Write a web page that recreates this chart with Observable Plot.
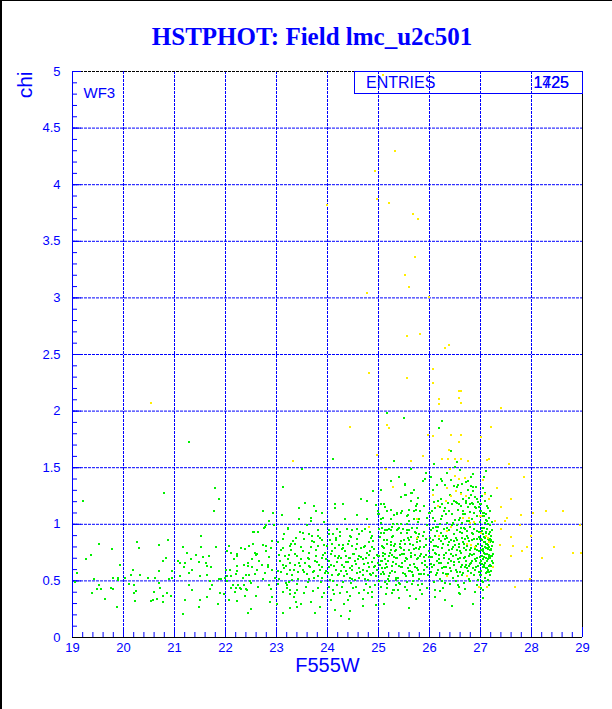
<!DOCTYPE html>
<html><head><meta charset="utf-8">
<script src="https://cdn.jsdelivr.net/npm/d3@7"></script>
<script src="https://cdn.jsdelivr.net/npm/@observablehq/plot@0.6"></script>
<style>
html,body{margin:0;padding:0;background:#fff;}
#wrap{position:relative;width:612px;height:709px;overflow:hidden;background:#fff;}
#title{position:absolute;left:6px;top:23px;width:612px;text-align:center;font:bold 25px "Liberation Serif",serif;color:#0000ff;white-space:nowrap;}
.lbl{position:absolute;font-family:"Liberation Sans",sans-serif;color:#0000ff;white-space:nowrap;}
#box{position:absolute;left:354px;top:71px;width:229px;height:23px;box-sizing:border-box;border:1px solid #0000ff;}
#chi{position:absolute;left:9px;top:76px;width:30px;height:21px;line-height:21px;font-size:21px;text-align:right;transform:rotate(-90deg);transform-origin:50% 50%;}
#bl{position:absolute;left:0;top:0;width:2px;height:709px;background:#000;}
#bt{position:absolute;left:0;top:0;width:612px;height:1px;background:#000;}
#chart{position:absolute;left:0;top:0;}
</style></head>
<body>
<div id="wrap">
  <div id="chart"></div>
  <div id="title">HSTPHOT: Field lmc_u2c501</div>
  <div id="box"></div>
  <div class="lbl" style="left:366px;top:75px;font-size:16px;line-height:16px;">ENTRIES</div>
  <div class="lbl" style="left:480px;width:89px;text-align:right;top:75px;font-size:16px;line-height:16px;">1725</div>
  <div class="lbl" style="left:480px;width:89px;text-align:right;top:75px;font-size:16px;line-height:16px;">1425</div>
  <div class="lbl" id="chi"></div>
  <div id="bl"></div><div id="bt"></div>
</div>
<script>
// ---- data (F555W magnitude, chi) ----
const xTickLabels = [19,20,21,22,23,24,25,26,27,28,29];
const yTickLabels = [0,0.5,1,1.5,2,2.5,3,3.5,4,4.5,5];
const xGrid = [20,21,22,23,24,25,26,27,28];
const yGrid = [0.5,1,1.5,2,2.5,3,3.5,4,4.5];
const xTitle = "F555W";
const yTitle = "chi";
const panelLabel = "WF3";

const greenBright = "21.29,1.73 20.80,1.28 19.20,1.21 21.80,1.32 21.88,1.22 21.77,1.12 21.52,0.90 19.51,0.83 20.27,0.84 19.78,0.78 20.31,0.79 20.88,0.86 20.69,0.82 19.37,0.73 19.27,0.69 19.94,0.64 19.08,0.57 19.43,0.52 19.80,0.53 19.89,0.53 19.90,0.51 20.02,0.53 20.18,0.60 20.15,0.55 20.32,0.55 20.49,0.53 20.61,0.53 20.69,0.59 20.90,0.52 20.95,0.53 20.78,0.68 20.84,0.70 20.95,0.59 20.70,0.48 21.07,0.68 21.10,0.66 21.17,0.80 21.24,0.75 21.20,0.66 21.18,0.62 21.33,0.69 21.35,0.60 21.29,0.57 21.10,0.54 21.43,0.73 21.51,0.80 21.56,0.71 21.48,0.67 21.61,0.66 21.64,0.63 21.68,0.72 21.82,0.80 21.72,0.62 21.50,0.54 21.64,0.55 21.69,0.50 21.88,0.52 21.92,0.52 21.99,0.53 22.02,0.54 22.03,0.76 22.07,0.81 22.11,0.75 22.22,0.74 22.22,0.72 22.16,0.69 22.31,0.79 22.39,0.78 22.46,0.81 22.53,0.93 22.52,0.69 22.45,0.66 22.45,0.63 22.36,0.64 22.23,0.63 22.22,0.59 22.08,0.60 22.01,0.60 22.11,0.54 22.20,0.56 22.40,0.55 22.46,0.55 22.35,0.53 22.49,0.50 22.03,0.50 19.05,0.49 19.51,0.46 19.55,0.43 19.48,0.43 19.39,0.39 19.76,0.44 19.80,0.43 19.64,0.34 19.88,0.27 20.10,0.47 20.20,0.46 20.25,0.41 20.20,0.39 20.22,0.32 20.57,0.33 20.54,0.32 20.65,0.34 20.71,0.44 20.59,0.40 20.78,0.37 20.78,0.31 20.86,0.39 20.93,0.37 21.16,0.21 21.20,0.33 21.29,0.46 21.35,0.42 21.48,0.27 21.50,0.33 21.64,0.36 21.69,0.43 21.73,0.46 21.86,0.30 21.89,0.39 21.98,0.38 22.06,0.33 22.11,0.44 22.15,0.46 22.20,0.44 22.24,0.46 22.28,0.44 22.36,0.46 22.31,0.43 22.39,0.37 22.23,0.32 22.19,0.40 22.45,0.22 22.50,0.25 22.42,0.42 22.40,0.43";

const greenMid = "24.10,1.58 23.50,1.49 25.31,1.56 25.64,1.49 23.12,1.33 25.25,1.38 25.51,1.36 24.90,1.29 25.52,1.26 25.64,1.28 24.78,1.21 23.55,1.19 24.15,1.18 24.15,1.14 23.74,1.16 23.77,1.12 25.10,1.18 25.59,1.13 25.76,1.18 22.74,1.12 22.93,1.10 24.99,1.12 25.00,1.09 25.37,1.10 25.44,1.10 23.44,1.05 22.86,1.03 23.67,1.06 23.68,1.03 24.78,1.05 25.04,1.05 25.04,1.01 25.56,1.07 25.59,1.03 25.37,1.00 25.44,1.00 25.29,1.00 25.55,1.00 25.77,1.02 22.80,0.99 22.75,0.97 22.96,0.99 22.77,0.98 "
 + "22.56,0.93 22.63,0.93 23.22,0.96 23.47,0.93 23.51,0.92 23.54,0.87 23.64,0.91 23.69,0.90 23.82,0.90 23.85,0.88 24.03,0.95 24.03,0.91 24.11,0.91 24.19,0.96 24.25,0.90 24.39,0.96 24.44,0.90 24.49,0.95 24.58,0.96 24.62,0.91 24.74,0.96 24.83,0.93 24.87,0.90 25.01,0.96 25.05,0.92 25.13,0.95 25.20,0.96 25.27,0.98 25.37,0.95 25.48,0.96 25.56,0.95 25.65,0.97 25.73,0.92 25.78,0.89 "
 + "22.53,0.83 22.59,0.73 22.73,0.82 22.79,0.81 22.92,0.85 22.90,0.79 23.13,0.87 23.12,0.79 23.33,0.85 23.37,0.83 23.26,0.81 23.73,0.84 23.82,0.81 23.89,0.86 23.94,0.82 24.08,0.83 24.16,0.86 24.23,0.82 24.31,0.82 24.29,0.78 24.42,0.85 24.48,0.81 24.57,0.83 24.65,0.79 24.74,0.81 24.82,0.84 24.88,0.80 25.07,0.81 25.10,0.86 25.16,0.83 25.24,0.82 25.30,0.81 25.35,0.77 25.44,0.85 25.52,0.83 25.60,0.86 25.68,0.82 25.75,0.84 25.80,0.78 "
 + "22.58,0.75 22.62,0.74 22.79,0.76 22.86,0.71 22.66,0.68 23.04,0.73 23.07,0.68 23.16,0.72 23.25,0.73 23.27,0.66 23.41,0.72 23.48,0.69 23.63,0.75 23.64,0.69 23.77,0.72 23.80,0.67 23.89,0.70 23.97,0.69 24.06,0.74 24.14,0.72 24.20,0.70 24.27,0.70 24.36,0.72 24.40,0.67 24.45,0.70 24.50,0.74 24.54,0.68 24.61,0.72 24.69,0.69 24.75,0.70 24.82,0.73 24.87,0.67 24.92,0.70 25.00,0.72 25.09,0.75 25.12,0.69 25.20,0.72 25.27,0.73 25.35,0.70 25.42,0.73 25.50,0.74 25.56,0.69 25.64,0.72 25.71,0.73 25.78,0.70 "
 + "22.52,0.62 22.61,0.60 22.71,0.64 22.78,0.57 22.84,0.62 22.92,0.60 23.03,0.59 23.12,0.64 23.20,0.56 23.26,0.60 23.37,0.64 23.42,0.58 23.51,0.60 23.59,0.56 23.64,0.63 23.73,0.59 23.82,0.54 23.89,0.62 23.97,0.59 24.03,0.62 24.08,0.55 24.16,0.60 24.23,0.56 24.32,0.62 24.37,0.59 24.44,0.53 24.49,0.60 24.57,0.57 24.62,0.61 24.70,0.55 24.78,0.59 24.84,0.56 24.91,0.62 24.97,0.60 25.03,0.64 25.05,0.56 25.12,0.61 25.20,0.54 25.26,0.59 25.35,0.53 25.44,0.62 25.52,0.56 25.59,0.59 25.68,0.55 25.75,0.61 25.80,0.56 22.57,0.56 22.74,0.52 23.63,0.52 23.30,0.51 24.49,0.52 24.79,0.51 "
 + "22.50,0.48 22.63,0.45 22.86,0.46 22.89,0.43 22.92,0.36 22.88,0.31 23.03,0.47 23.01,0.30 23.13,0.40 23.21,0.44 23.27,0.42 23.26,0.38 23.37,0.39 23.41,0.42 23.12,0.22 23.39,0.31 23.54,0.39 23.68,0.31 23.76,0.22 23.81,0.44 23.89,0.36 23.94,0.39 24.03,0.45 24.06,0.33 24.12,0.38 24.25,0.39 24.33,0.30 24.29,0.45 24.39,0.40 24.45,0.37 24.45,0.23 24.42,0.16 24.27,0.19 24.56,0.45 24.62,0.39 24.71,0.42 24.79,0.39 24.70,0.34 24.83,0.45 24.93,0.46 24.96,0.29 24.88,0.40 25.04,0.45 25.14,0.38 25.17,0.47 25.26,0.39 25.34,0.46 25.39,0.42 25.51,0.45 25.56,0.42 25.65,0.47 25.73,0.34 25.81,0.42 22.50,0.25 22.59,0.37 23.21,0.46 23.27,0.26 23.41,0.27";

const greenFaint = "25.50,1.94 26.25,1.91 26.18,1.85 25.17,1.98 25.31,1.56 26.54,1.55 26.42,1.65 25.64,1.49 26.50,1.51 26.08,1.53 25.94,1.45 25.91,1.40 26.03,1.42 26.22,1.40 26.25,1.38 26.31,1.35 26.42,1.39 26.49,1.34 26.54,1.33 26.63,1.36 26.75,1.38 26.82,1.34 26.86,1.29 25.51,1.35 25.65,1.28 25.54,1.26 25.63,1.21 25.77,1.23 25.74,1.16 25.89,1.16 25.82,1.12 25.74,1.13 25.69,1.05 26.08,1.20 26.11,1.14 26.06,1.06 26.00,1.10 25.95,1.06 26.23,1.22 26.25,1.18 26.29,1.12 26.33,1.09 26.39,1.12 26.44,1.18 26.48,1.21 26.53,1.19 26.58,1.18 26.65,1.12 26.72,1.21 26.78,1.23 26.79,1.18 26.84,1.19 26.90,1.15 26.93,1.22 26.97,1.15 27.00,1.12 27.04,1.10 27.07,1.07 25.04,1.18 25.12,1.15 25.17,1.12 25.09,1.06 25.24,1.05 25.31,1.08 25.37,1.09 25.46,1.12 25.57,1.08 25.69,1.12 "
 + "25.07,0.97 25.10,0.92 25.17,0.86 25.08,0.80 25.13,0.74 25.07,0.68 25.17,0.62 25.10,0.56 25.24,0.95 25.27,0.89 25.33,0.83 25.24,0.77 25.30,0.71 25.35,0.65 25.27,0.59 25.38,0.53 25.41,0.97 25.44,0.92 25.50,0.86 25.43,0.80 25.47,0.74 25.52,0.68 25.46,0.62 25.51,0.56 25.59,0.95 25.63,0.89 25.67,0.82 25.59,0.77 25.64,0.71 25.69,0.65 25.61,0.59 25.68,0.54 25.76,0.97 25.80,0.91 25.82,0.85 25.74,0.79 25.81,0.72 25.86,0.66 25.77,0.60 25.84,0.56 25.90,0.93 25.93,0.87 25.89,0.80 25.94,0.73 25.91,0.68 25.95,0.62 25.89,0.56 25.21,0.50 25.56,0.49 25.78,0.46 25.17,0.44 25.30,0.42 25.43,0.47";

const greenDense = "26.02,0.58 26.04,0.71 26.03,0.84 26.06,0.97 26.05,1.12 26.08,0.49 26.09,0.64 26.07,0.77 26.11,0.90 26.10,1.03 26.12,0.55 26.14,0.68 26.13,0.81 26.15,0.94 26.16,1.21 26.17,0.60 26.19,0.73 26.18,0.87 26.20,1.00 26.21,0.52 26.22,0.66 26.24,0.79 26.23,0.92 26.25,1.07 26.26,0.57 26.28,0.70 26.27,0.83 26.29,0.96 26.30,1.14 26.31,0.48 26.33,0.62 26.32,0.75 26.34,0.88 26.35,1.01 26.36,0.56 26.38,0.69 26.37,0.82 26.39,0.95 26.40,1.26 26.41,0.61 26.43,0.74 26.42,0.86 26.44,0.99 26.45,1.09 26.46,0.53 26.48,0.67 26.47,0.80 26.49,0.91 26.50,1.04 26.03,0.65 26.08,0.81 26.13,0.74 26.18,0.66 26.23,0.85 26.28,0.62 26.33,0.90 26.38,0.77 26.43,0.68 26.48,0.85 26.06,1.30 26.21,1.15 26.36,1.19 26.11,0.42 26.26,0.44 26.41,0.47 26.16,0.98 26.31,0.87 26.46,0.72 26.01,0.88 "
 + "26.51,0.60 26.52,0.73 26.53,0.86 26.54,0.99 26.55,1.13 26.56,0.54 26.57,0.67 26.58,0.80 26.59,0.93 26.60,1.06 26.61,0.62 26.62,0.75 26.63,0.88 26.64,1.01 26.65,1.22 26.66,0.57 26.67,0.70 26.68,0.83 26.69,0.96 26.70,1.09 26.71,0.64 26.72,0.77 26.73,0.90 26.74,1.03 26.75,1.30 26.76,0.59 26.77,0.72 26.78,0.85 26.79,0.98 26.80,1.11 26.81,0.66 26.82,0.79 26.83,0.92 26.84,1.05 26.85,1.18 26.86,0.61 26.87,0.74 26.88,0.87 26.89,1.00 26.90,1.24 26.91,0.68 26.92,0.81 26.93,0.94 26.94,1.07 26.95,0.51 26.96,0.63 26.97,0.76 26.98,0.89 26.99,1.02 26.52,0.50 26.57,0.45 26.62,1.16 26.67,0.48 26.72,1.37 26.77,0.52 26.82,1.42 26.87,0.55 26.92,1.33 26.97,0.58 "
 + "26.50,0.82 26.55,0.69 26.60,0.76 26.65,0.84 26.70,0.71 26.75,0.88 26.80,0.74 26.85,0.91 26.90,0.78 26.95,0.83 26.53,0.95 26.58,1.04 26.63,0.64 26.68,0.97 26.73,0.61 26.78,1.03 26.83,0.68 26.88,1.10 26.93,0.70 26.98,1.15 26.54,0.77 26.59,0.58 26.64,0.92 26.69,0.62 26.74,0.81 26.79,0.65 26.84,0.86 26.89,0.60 26.94,0.87 26.99,0.66 26.51,1.20 26.61,1.28 26.71,1.19 26.81,1.26 26.91,1.14 26.56,1.35 26.66,1.09 26.76,1.15 26.86,1.33 26.96,1.20 "
 + "27.00,0.55 27.01,0.68 27.02,0.81 27.03,0.94 27.04,1.07 27.05,0.49 27.06,0.62 27.07,0.75 27.08,0.88 27.09,1.01 27.10,0.57 27.11,0.70 27.12,0.83 27.13,0.96 27.14,1.14 27.15,0.60 27.16,0.73 27.17,0.86 27.18,0.99 27.19,0.64 27.20,0.77 27.21,0.90 27.22,0.68 27.23,0.81 27.24,0.74 27.01,0.59 27.02,0.72 27.03,0.65 27.04,0.78 27.05,0.91 27.06,0.84 27.07,0.97 27.08,0.53 27.09,0.66 27.10,0.79 27.11,0.92 27.12,0.61 27.13,0.74 27.14,0.87 27.15,1.00 27.16,0.58 27.17,0.71 27.18,0.84 27.19,0.77 27.20,0.63 27.21,0.85 27.22,0.72 27.00,1.18 27.02,1.25 27.04,1.32 27.06,1.10 27.08,1.21 27.10,1.04 27.12,1.16 27.14,0.51 27.16,0.46 27.18,0.55 27.01,0.44 27.03,0.50 27.05,0.42 27.07,1.42 27.09,1.28 27.11,1.09 27.13,1.03 27.17,1.06 27.19,0.93 27.21,0.59 27.23,0.95 27.00,0.87 27.02,0.97 27.04,0.62 27.06,0.71 27.08,0.80 27.10,0.93 27.12,0.68 27.14,0.82 27.16,0.91 27.18,0.70 27.20,0.86 27.05,0.76 27.07,0.64 27.09,0.84 27.11,0.61 27.13,0.79 27.15,0.69 27.17,0.80 27.19,0.72 27.01,0.77 27.03,0.86 27.05,0.69 27.07,0.89 27.09,0.74 27.11,0.83 27.13,0.58 27.15,0.78 27.17,0.63 27.19,0.87 27.21,0.78 27.24,0.66 27.25,0.84";

const greenExtra = "23.05,0.52 23.09,0.77 23.14,0.61 23.18,0.48 23.23,0.69 23.28,0.83 23.31,0.55 23.36,0.74 23.40,0.47 23.45,0.66 23.49,0.80 23.53,0.58 23.57,0.45 23.61,0.70 23.66,0.62 23.70,0.85 23.74,0.53 23.78,0.77 23.83,0.64 23.87,0.49 23.91,0.73 23.95,0.57 23.99,0.81 24.02,0.68 24.05,0.51 24.09,0.76 24.12,0.63 24.16,0.88 24.19,0.46 24.22,0.72 24.26,0.59 24.30,0.79 24.33,0.54 24.37,0.67 24.41,0.83 24.44,0.61 24.47,0.48 24.51,0.74 24.55,0.65 24.58,0.87 24.62,0.53 24.65,0.71 24.69,0.60 24.72,0.80 24.76,0.47 24.80,0.66 24.83,0.76 24.86,0.55 24.90,0.85 24.94,0.63 24.97,0.73 25.01,0.50 25.04,0.68 25.08,0.58 25.11,0.79 25.15,0.65 25.19,0.52 25.22,0.75 25.26,0.63 25.29,0.90 25.33,0.58 25.36,0.70 25.40,0.48 25.43,0.83 25.47,0.66 25.50,0.77 25.54,0.54 25.57,0.88 25.61,0.64 25.64,0.75 25.68,0.50 25.71,0.93 25.75,0.69 25.78,0.60 25.82,0.80 25.85,0.47 25.89,0.71 25.92,0.64 25.96,0.99 25.99,0.76 23.22,0.97 23.60,0.99 23.93,1.02 24.35,1.05 24.58,1.08 24.95,1.17 25.25,1.13 25.45,1.24 25.70,1.30 25.88,1.38 24.40,0.33 24.70,0.28 25.10,0.30 25.40,0.35 25.60,0.26 25.85,0.38 23.48,0.30 23.85,0.27 24.15,0.24 26.10,0.36 26.30,0.33 26.60,0.38 26.85,0.30 27.05,0.35 26.45,0.28 26.25,0.50 26.57,0.39 26.93,0.46 26.80,0.50";

const greenMore = "22.83,0.64 22.97,0.53 23.02,0.84 23.08,0.58 23.15,0.91 23.19,0.63 23.24,0.49 23.29,0.77 23.34,0.60 23.38,0.88 23.43,0.52 23.47,0.63 23.52,0.76 23.56,0.66 23.62,0.49 23.67,0.80 23.71,0.58 23.76,0.68 23.81,0.95 23.86,0.60 23.90,0.53 23.96,0.75 24.01,0.57 24.04,0.86 24.07,0.64 24.11,0.50 24.14,0.79 24.18,0.67 24.21,0.55 24.24,0.93 24.28,0.64 24.31,0.49 24.34,0.76 24.38,0.56 24.42,0.70 24.46,0.89 24.48,0.63 24.53,0.51 24.56,0.78 24.60,0.69 24.63,0.58 24.67,0.94 24.71,0.65 24.74,0.52 24.77,0.75 24.81,0.62 24.85,0.88 24.89,0.57 24.92,0.78 24.96,0.54 24.99,0.66 25.02,0.89 25.06,0.61 25.09,0.72 25.13,0.49 25.16,0.95 25.18,0.68 25.23,0.57 25.25,0.84 25.28,0.67 25.32,0.76 25.34,0.51 25.38,0.96 25.41,0.63 25.45,0.79 25.48,0.57 25.53,0.70 25.55,0.92 25.58,0.61 25.62,0.83 25.66,0.58 25.70,0.78 25.72,0.62 25.76,0.87 25.79,0.52 25.83,0.74 25.87,0.90 25.90,0.60 25.94,0.82 25.97,0.55 26.00,0.71 26.02,0.95 26.05,0.62 26.07,0.86 26.10,0.75 26.12,0.98 26.14,0.57 26.17,0.80 26.19,0.69 26.22,1.05 26.24,0.61 26.27,0.90 26.29,0.73 26.32,0.56 26.34,0.97 26.37,0.66 26.39,0.84 26.42,0.59 26.44,0.78 26.47,1.01 26.49,0.64 26.52,0.88 26.54,0.58 26.57,0.83 26.59,0.70 26.62,0.97 26.64,0.55 26.67,0.79 26.69,0.87 26.72,0.68 26.74,0.94 26.77,0.63 26.79,0.77 26.82,0.57 26.84,0.73 26.87,0.96 26.89,0.69 26.92,0.62 26.94,0.77 26.97,0.93 26.99,0.71 "
 + "23.35,0.36 23.72,0.41 24.10,0.42 24.50,0.44 24.88,0.36 25.28,0.42 25.62,0.37 25.95,0.44 26.20,0.41 26.55,0.46 26.70,0.43 26.90,0.40 23.10,1.08 23.45,1.14 23.90,1.10 24.30,1.18 24.65,1.22 25.05,1.30 25.40,1.42 25.80,1.05 26.15,1.35 26.35,1.45 26.60,1.48 26.85,1.44 27.10,1.47 27.20,1.25 27.22,1.02 27.18,1.12";

const yellowPts = "25.33,4.30 24.93,4.12 24.97,3.87 25.21,3.84 25.68,3.74 25.78,3.70 25.71,3.36 25.52,3.20 25.59,3.10 24.78,3.04 25.99,3.01 25.55,2.66 25.81,2.68 26.31,2.56 26.39,2.58 24.82,2.34 25.56,2.29 26.07,2.37 26.06,2.25 26.57,2.18 26.61,2.18 26.19,2.11 26.58,2.12 26.18,2.06 26.61,2.07 27.41,2.03 24.45,1.86 25.16,1.88 25.20,1.85 27.20,1.86 25.98,1.79 26.07,1.78 26.43,1.79 26.61,1.79 27.01,1.77 23.99,3.82 20.54,2.07 25.09,4.97 26.58,1.73 26.39,1.66 25.88,1.60 26.25,1.58 26.37,1.58 26.50,1.58 26.61,1.58 26.75,1.56 25.63,1.56 27.12,1.57 27.17,1.58 27.55,1.53 26.41,1.49 25.14,1.49 27.86,1.42 26.50,1.43 26.58,1.40 26.69,1.41 27.04,1.39 25.29,1.33 26.35,1.32 26.52,1.29 26.06,1.26 27.08,1.27 27.33,1.32 26.43,1.25 26.61,1.27 26.71,1.25 27.17,1.22 27.59,1.22 26.16,1.16 26.33,1.21 27.41,1.15 28.02,1.10 28.29,1.12 28.62,1.12 27.80,1.08 26.65,1.06 26.78,1.06 27.00,1.07 27.51,1.06 25.75,1.05 26.80,1.01 26.87,1.02 27.29,1.03 27.48,1.03 27.41,0.96 27.77,0.99 28.96,0.99 27.99,0.90 27.60,0.89 27.01,0.92 27.10,0.90 27.14,0.88 27.17,0.84 26.19,0.90 26.35,0.94 26.43,0.98 26.74,0.83 26.82,0.82 26.90,0.80 27.38,0.82 27.92,0.80 27.63,0.81 28.82,0.75 28.97,0.75 28.44,0.80 27.82,0.76 28.20,0.70 27.59,0.72 26.35,0.54 26.74,0.54 27.24,0.62 27.13,0.45 27.68,0.45 27.97,0.52 26.98,0.45 23.33,1.56 24.82,0.98 24.97,1.61 25.75,0.88";

// ---- build ----
const parse = s => s.trim().split(/\s+/).map(p => { const [x, y] = p.split(",").map(Number); return {x, y}; });
const green = [greenBright, greenMid, greenFaint, greenDense, greenExtra, greenMore].flatMap(parse);
const yellow = parse(yellowPts);

document.getElementById("chi").textContent = yTitle;

const W = 612, H = 709, mL = 72, mR = 30, mT = 71, mB = 72;
const innerW = W - mL - mR, innerH = H - mT - mB;
const BLUE = "#0000ff";
const xMinor = d3.range(19, 29.0001, 0.2);
const yMinor = d3.range(0, 5.0001, 0.1);

const chart = Plot.plot({
  width: W, height: H,
  marginLeft: mL, marginRight: mR, marginTop: mT, marginBottom: mB,
  style: {fontFamily: "'Liberation Sans', Arial, sans-serif", background: "transparent"},
  x: {domain: [19, 29]},
  y: {domain: [0, 5]},
  marks: [
    Plot.ruleX(xGrid, {stroke: BLUE, strokeWidth: 1, strokeDasharray: "3,1"}),
    Plot.ruleY(yGrid, {stroke: BLUE, strokeWidth: 1, strokeDasharray: "3,1"}),
    Plot.ruleY([5], {stroke: "#000", strokeDasharray: "3,1"}),
    Plot.ruleX([29], {stroke: "#000"}),
    Plot.tickX(xMinor, {x: d => d, stroke: BLUE, insetTop: innerH - 5}),
    Plot.tickX(xTickLabels, {x: d => d, stroke: BLUE, insetTop: innerH - 10}),
    Plot.tickY(yMinor, {y: d => d, stroke: BLUE, insetRight: innerW - 5}),
    Plot.tickY(yTickLabels, {y: d => d, stroke: BLUE, insetRight: innerW - 9}),
    Plot.ruleX([19], {stroke: BLUE}),
    Plot.ruleY([0], {stroke: "#000"}),
    Plot.dot(green, {x: "x", y: "y", symbol: "square", r: 1.13, fill: "#00f000", stroke: null, shapeRendering: "crispEdges"}),
    Plot.dot(yellow, {x: "x", y: "y", symbol: "square", r: 1.13, fill: "#ffee00", stroke: null, shapeRendering: "crispEdges"}),
    Plot.axisX(xTickLabels, {tickSize: 0, tickPadding: 5, fontSize: 13, color: BLUE, label: null}),
    Plot.axisY(yTickLabels, {tickSize: 0, tickPadding: 12, fontSize: 13, color: BLUE, label: null, tickFormat: d => String(d)}),
    Plot.text([xTitle], {frameAnchor: "bottom", dy: 34, fontSize: 20, fill: BLUE}),
    Plot.text([panelLabel], {frameAnchor: "top-left", dx: 11, dy: 16, fontSize: 15, fill: BLUE, textAnchor: "start"})
  ]
});
document.getElementById("chart").appendChild(chart);
</script>
</body></html>
